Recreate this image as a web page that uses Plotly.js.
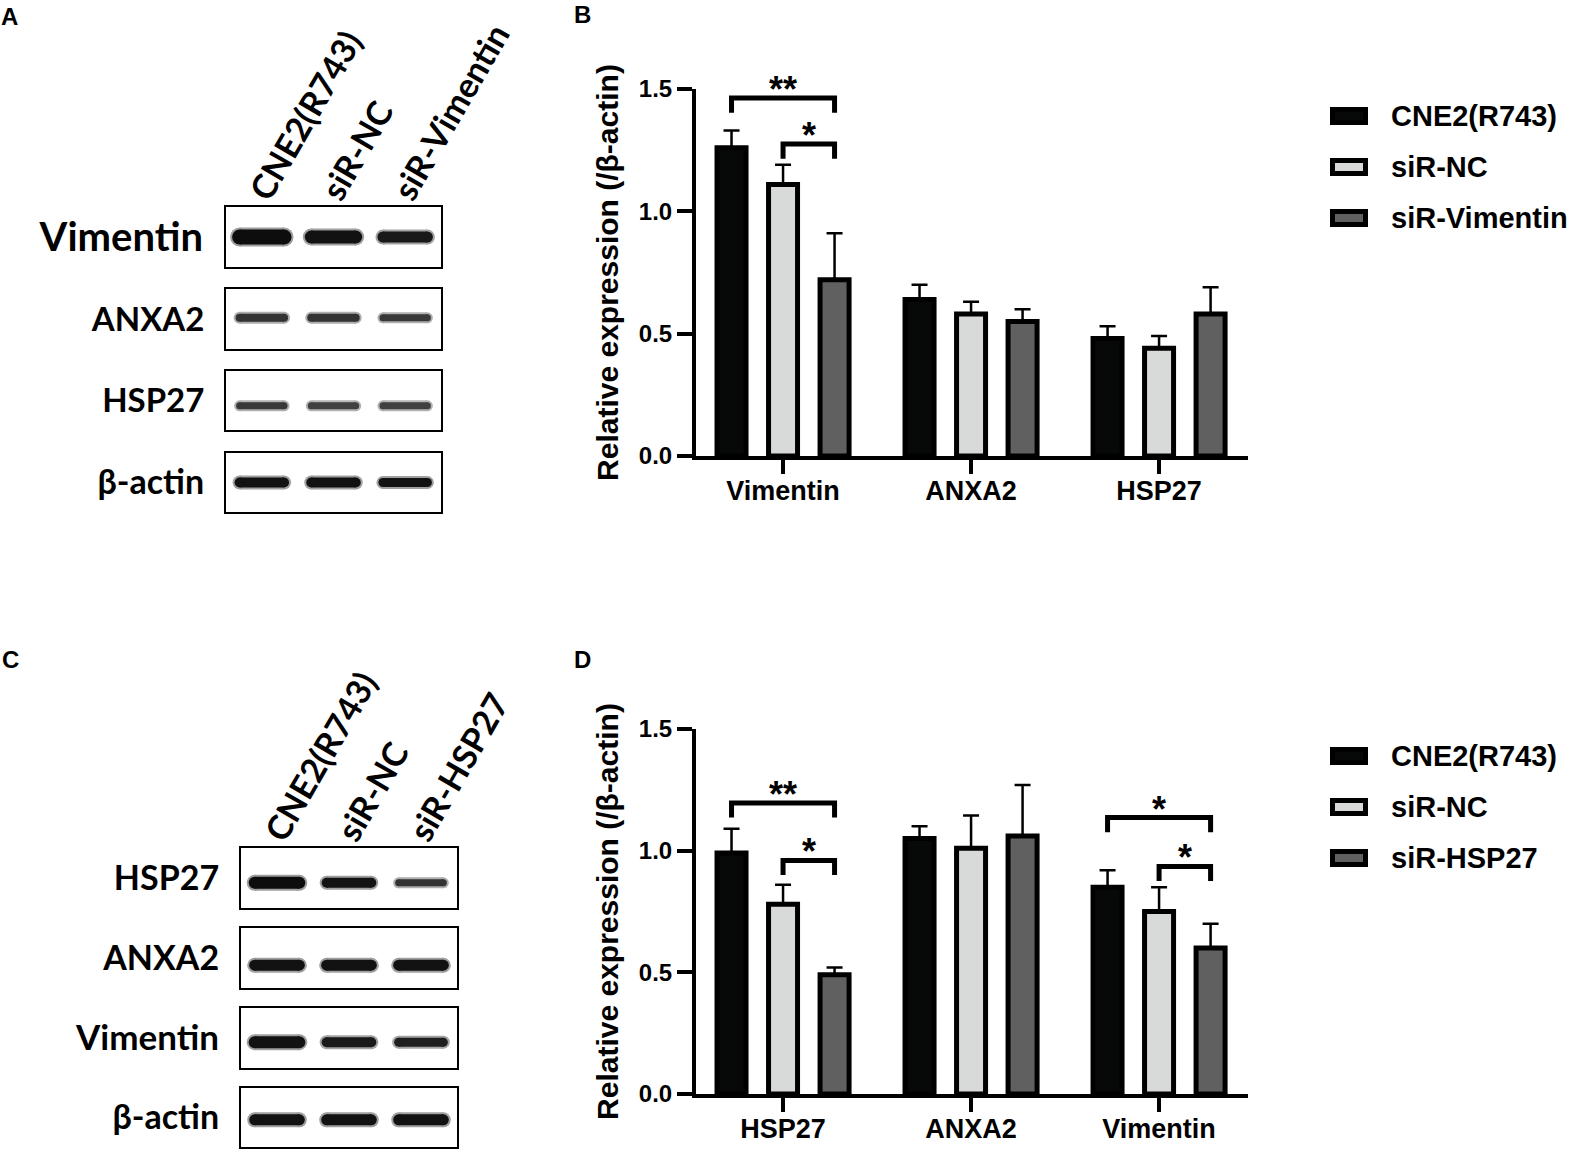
<!DOCTYPE html>
<html><head><meta charset="utf-8">
<script src="https://cdn.plot.ly/plotly-3.0.1.min.js"></script>
<style>html,body{margin:0;padding:0;background:#fff}#chart{width:1570px;height:1149px}</style>
</head><body><div id="chart"></div>
<script>
// ================= DATA =================
// Panel B
const catsB = ['Vimentin', 'ANXA2', 'HSP27'];
const seriesB = ['CNE2(R743)', 'siR-NC', 'siR-Vimentin'];
const meanB_CNE2 = [1.26, 0.64, 0.48];
const errB_CNE2  = [0.07, 0.06, 0.05];
const meanB_NC   = [1.11, 0.58, 0.44];
const errB_NC    = [0.08, 0.05, 0.05];
const meanB_KD   = [0.72, 0.55, 0.58];
const errB_KD    = [0.19, 0.05, 0.11];
// Panel D
const catsD = ['HSP27', 'ANXA2', 'Vimentin'];
const seriesD = ['CNE2(R743)', 'siR-NC', 'siR-HSP27'];
const meanD_CNE2 = [0.99, 1.05, 0.85];
const errD_CNE2  = [0.10, 0.05, 0.07];
const meanD_NC   = [0.78, 1.01, 0.75];
const errD_NC    = [0.08, 0.135, 0.10];
const meanD_KD   = [0.49, 1.06, 0.60];
const errD_KD    = [0.03, 0.21, 0.10];
const yTicks = [0, 0.5, 1, 1.5];
const yTickText = ['0.0', '0.5', '1.0', '1.5'];
// Significance brackets: [category index, from series, to series, bracket level, label]
const sigB = [[0, 0, 2, 1.463, '**'], [0, 1, 2, 1.275, '*']];
const sigD = [[0, 0, 2, 1.196, '**'], [0, 1, 2, 0.96, '*'], [2, 0, 2, 1.136, '*'], [2, 1, 2, 0.935, '*']];
// Panel A western blot (band thickness px, band darkness 0..1)
const lanesA = ['CNE2(R743)', 'siR-NC', 'siR-Vimentin'];
const rowsA = ['Vimentin', 'ANXA2', 'HSP27', 'β-actin'];
const bandA_thick = [[15, 13, 11], [8, 8, 7], [7, 7, 7], [10, 10, 9]];
const bandA_dark  = [[0.95, 0.93, 0.9], [0.8, 0.8, 0.78], [0.78, 0.75, 0.75], [0.93, 0.93, 0.93]];
// Panel C western blot
const lanesC = ['CNE2(R743)', 'siR-NC', 'siR-HSP27'];
const rowsC = ['HSP27', 'ANXA2', 'Vimentin', 'β-actin'];
const bandC_thick = [[12, 10, 7], [11, 11, 11], [12, 10, 9], [11, 11, 11]];
const bandC_dark  = [[0.95, 0.92, 0.8], [0.93, 0.93, 0.93], [0.93, 0.9, 0.88], [0.93, 0.93, 0.93]];

// ================= STYLE / LAYOUT =================
const W = 1570, H = 1149;
const fx = p => p / W;
const fy = p => 1 - p / H;
const barColors = ['#070909', '#d8dada', '#5f605f'];
const ARIAL = 'Liberation Sans, Arial, sans-serif';
const CAL = 'Lato, Open Sans, sans-serif';
const BARGAP = 0.178, GROUPGAP = 0.437;
const slot = (1 - BARGAP) / 3;
const YMAX = 1.5;
const b = s => '<b>' + s + '</b>';

const traces = [];
const annotations = [];
const shapes = [];
const layout = {
  width: W, height: H, margin: {l: 0, r: 0, t: 0, b: 0},
  paper_bgcolor: '#fff', plot_bgcolor: 'rgba(0,0,0,0)',
  barmode: 'group', bargap: BARGAP, bargroupgap: GROUPGAP,
  showlegend: false, annotations: annotations, shapes: shapes,
  font: {family: ARIAL, color: '#000'}
};

function barChart(ax, cats, names, means, errs, sig, box, legendY) {
  const suf = ax === 1 ? '' : String(ax);
  const xa = 'x' + suf, ya = 'y' + suf;
  means.forEach((m, i) => {
    traces.push({
      type: 'bar', x: [0, 1, 2], y: m, name: names[i], xaxis: xa, yaxis: ya,
      marker: {color: barColors[i], line: {color: '#000', width: 5}},
      error_y: {type: 'data', array: errs[i], arrayminus: [0, 0, 0], symmetric: false,
                color: '#000', thickness: 2.5, width: 8},
      hoverinfo: 'skip'
    });
  });
  sig.forEach(s => {
    const xa0 = s[0] + (s[1] - 1) * slot, xa1 = s[0] + (s[2] - 1) * slot;
    const drop = 0.06;
    traces.push({
      type: 'scatter', mode: 'lines', xaxis: xa, yaxis: ya, hoverinfo: 'skip',
      x: [xa0, xa0, xa1, xa1], y: [s[3] - drop, s[3], s[3], s[3] - drop],
      line: {color: '#000', width: 5}
    });
    annotations.push({
      xref: xa, yref: ya + ' domain', x: (xa0 + xa1) / 2, y: (s[3] + 0.07) / YMAX, text: b(s[4]),
      showarrow: false, yshift: 14, font: {family: ARIAL, size: 36, color: '#000'}
    });
  });
  const axBase = {showgrid: false, zeroline: false, showline: true, linewidth: 4, linecolor: '#000',
    ticks: 'outside', tickwidth: 4, tickcolor: '#000', fixedrange: true};
  layout['xaxis' + suf] = Object.assign({}, axBase, {
    domain: [fx(box.x0), fx(box.x1)], anchor: ya, range: [-0.463, 2.473],
    tickvals: [0, 1, 2], ticktext: cats.map(b), ticklen: 14, ticklabelstandoff: -6,
    tickfont: {family: ARIAL, size: 27, color: '#000'}
  });
  layout['yaxis' + suf] = Object.assign({}, axBase, {
    domain: [fy(box.y1), fy(box.y0)], anchor: xa, range: [0, YMAX],
    tickvals: yTicks, ticktext: yTickText.map(b), ticklen: 15,
    tickfont: {family: ARIAL, size: 24, color: '#000'},
    title: {text: b('Relative expression (/β-actin)'), standoff: 12,
            font: {family: ARIAL, size: 30, color: '#000'}}
  });
  // legend
  names.forEach((n, i) => {
    const yc = legendY[i];
    shapes.push({type: 'rect', xref: 'paper', yref: 'paper',
      x0: fx(1332.5), x1: fx(1365.5), y0: fy(yc - 6.5), y1: fy(yc + 6.5),
      fillcolor: barColors[i], line: {color: '#000', width: 5}});
    annotations.push({xref: 'paper', yref: 'paper', x: fx(1389), y: fy(yc), xanchor: 'left',
      yanchor: 'middle', text: b(n), showarrow: false,
      font: {family: ARIAL, size: 29, color: '#000'}});
  });
}

barChart(1, catsB, seriesB, [meanB_CNE2, meanB_NC, meanB_KD], [errB_CNE2, errB_NC, errB_KD], sigB,
  {x0: 696, x1: 1248, y0: 89, y1: 456}, [116, 167, 218]);
barChart(2, catsD, seriesD, [meanD_CNE2, meanD_NC, meanD_KD], [errD_CNE2, errD_NC, errD_KD], sigD,
  {x0: 696, x1: 1248, y0: 729, y1: 1094}, [756, 807, 858]);

function shade(v) { const g = Math.round(255 * (1 - v)); return 'rgb(' + g + ',' + g + ',' + g + ')'; }
function shadeHalo(v) { const g = Math.round(255 * (1 - v)); const h = Math.round(g + (255 - g) * 0.6); return 'rgb(' + h + ',' + h + ',' + h + ')'; }

function blot(firstAx, lanes, rows, thick, dark, box, bandY, labelSizes) {
  rows.forEach((rn, r) => {
    const n = firstAx + r;
    const xa = 'x' + n, ya = 'y' + n;
    lanes.forEach((ln, l) => {
      const t = thick[r][l], d = dark[r][l];
      traces.push({type: 'scatter', mode: 'lines+markers', xaxis: xa, yaxis: ya, hoverinfo: 'skip',
        x: [l - 0.31, l + 0.31], y: [bandY[r], bandY[r]],
        line: {color: shadeHalo(d), width: t + 4}, marker: {color: shadeHalo(d), size: t + 4}});
      traces.push({type: 'scatter', mode: 'lines+markers', xaxis: xa, yaxis: ya, hoverinfo: 'skip',
        x: [l - 0.31, l + 0.31], y: [bandY[r], bandY[r]],
        line: {color: shade(d), width: t}, marker: {color: shade(d), size: t}});
    });
    const isTop = r === 0;
    layout['xaxis' + n] = {
      domain: [fx(box.x0), fx(box.x1)], anchor: ya, range: [-0.5, 2.5],
      showgrid: false, zeroline: false, showline: true, mirror: true, linewidth: 2, linecolor: '#000',
      ticks: '', fixedrange: true, side: isTop ? 'top' : 'bottom',
      showticklabels: isTop, tickvals: [0, 1, 2], ticktext: lanes.map(b), tickangle: -60,
      ticklabelstandoff: -20, ticklabelshift: -7,
      tickfont: {family: CAL, size: 34, color: '#000'}
    };
    layout['yaxis' + n] = {
      domain: [fy(box.rows[r][1]), fy(box.rows[r][0])], anchor: xa, range: [0, 1],
      showgrid: false, zeroline: false, showline: true, mirror: true, linewidth: 2, linecolor: '#000',
      ticks: '', fixedrange: true, tickvals: [0.5], ticktext: [b(rn)], ticklabelstandoff: 13,
      tickfont: {family: CAL, size: labelSizes[r], color: '#000'}
    };
  });
}

blot(3, lanesA, rowsA, bandA_thick, bandA_dark,
  {x0: 226, x1: 441, rows: [[207, 267], [289, 349], [371, 430], [453, 512]]},
  [0.5, 0.52, 0.41, 0.5], [40, 33, 33, 34]);
blot(7, lanesC, rowsC, bandC_thick, bandC_dark,
  {x0: 241, x1: 457, rows: [[848, 908], [928, 988], [1008, 1068], [1088, 1147]]},
  [0.42, 0.38, 0.43, 0.46], [34, 34, 35, 34]);

// panel letters
[['A', 9, 16], ['B', 582, 15], ['C', 10, 659], ['D', 582, 659]].forEach(p => {
  annotations.push({xref: 'paper', yref: 'paper', x: fx(p[1]), y: fy(p[2]), text: b(p[0]),
    showarrow: false, xanchor: 'center', yanchor: 'middle',
    font: {family: ARIAL, size: 24, color: '#000'}});
});

Plotly.newPlot('chart', traces, layout, {displayModeBar: false, staticPlot: true});
</script></body></html>
